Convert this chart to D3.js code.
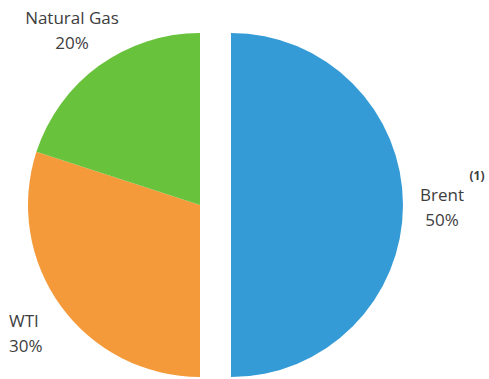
<!DOCTYPE html>
<html>
<head>
<meta charset="utf-8">
<script src="https://cdn.jsdelivr.net/npm/d3@7"></script>
<style>
  html, body { margin: 0; padding: 0; background: #fff; }
  svg { display: block; }
  text { font-family: "Open Sans", "Noto Sans", sans-serif; fill: #3d3d3d; }
</style>
</head>
<body>
<svg id="chart" width="489" height="379"></svg>
<script>
// Energy mix shares
const categories = ["Brent", "WTI", "Natural Gas"];
const shares = [50, 30, 20];
const colors = ["#349bd6", "#f49a3a", "#68c23b"];
const footnotes = ["(1)", "", ""];

const W = 489, H = 379;
const cx = 200, cy = 205, radius = 172;
const explode = 31; // Brent slice pulled out from the centre

const svg = d3.select("#chart");

const pie = d3.pie().sort(null).value(d => d.value).startAngle(0).endAngle(2 * Math.PI);
const data = pie(categories.map((c, i) => ({ name: c, value: shares[i], color: colors[i], note: footnotes[i] })));

const arc = d3.arc().innerRadius(0).outerRadius(radius);

const g = svg.append("g").attr("transform", `translate(${cx},${cy})`);

g.selectAll("path.slice")
  .data(data)
  .join("path")
  .attr("class", "slice")
  .attr("d", arc)
  .attr("fill", d => d.data.color)
  .attr("transform", d => {
    if (d.index !== 0) return null;
    const mid = (d.startAngle + d.endAngle) / 2;
    return `translate(${explode * Math.sin(mid)},${-explode * Math.cos(mid)})`;
  });

// Label anchors (layout only)
const labelPos = {
  "Brent":       { x: 442, y: 201, anchor: "middle" },
  "WTI":         { x: 9,   y: 327, anchor: "start" },
  "Natural Gas": { x: 72,  y: 24,  anchor: "middle" }
};
const lineGap = 25;

data.forEach(d => {
  const p = labelPos[d.data.name];
  const t = svg.append("text")
    .attr("x", p.x).attr("y", p.y)
    .attr("text-anchor", p.anchor)
    .style("font-size", "17px");
  t.append("tspan").attr("x", p.x).text(d.data.name);
  t.append("tspan").attr("x", p.x).attr("dy", lineGap).text(`${d.data.value}%`);
  if (d.data.note) {
    svg.append("text")
      .attr("x", 477).attr("y", 180)
      .attr("text-anchor", "middle")
      .style("font-size", "12px")
      .style("font-weight", "bold")
      .text(d.data.note);
  }
});
</script>
</body>
</html>
